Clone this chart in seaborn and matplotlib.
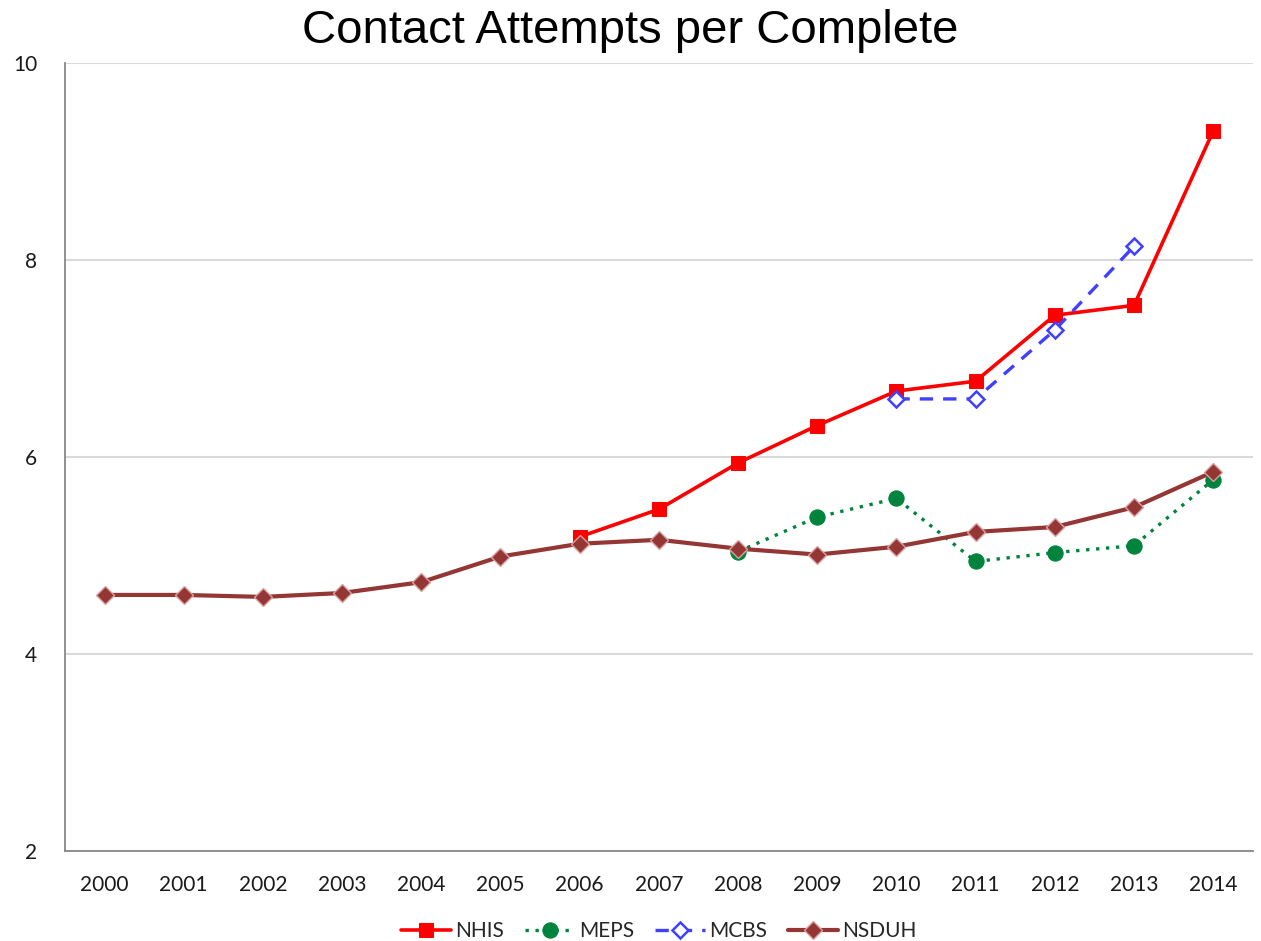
import matplotlib
matplotlib.use("Agg")
import matplotlib.pyplot as plt
import seaborn as sns
import numpy as np
import pandas as pd

years = list(range(2000, 2015))
nhis_years = list(range(2006, 2015))
nhis = [5.19, 5.47, 5.94, 6.32, 6.67, 6.77, 7.44, 7.54, 9.31]
meps_years = list(range(2008, 2015))
meps = [5.04, 5.39, 5.58, 4.94, 5.03, 5.10, 5.77]
mcbs_years = [2010, 2011, 2012, 2013]
mcbs = [6.59, 6.59, 7.29, 8.14]
nsduh_years = years
nsduh = [4.60, 4.60, 4.58, 4.62, 4.73, 4.99, 5.12, 5.16, 5.07, 5.01, 5.09, 5.24, 5.29, 5.49, 5.85]

sns.set_style("white")
plt.rcParams['font.family'] = ['Lato', 'DejaVu Sans']

fig = plt.figure(figsize=(12.61, 9.41), dpi=100)
ax = fig.add_axes([0.0515, 0.0956, 0.942, 0.8374])

sns.lineplot(x=nhis_years, y=nhis, ax=ax, color="#FF0000", lw=2.6, marker="s",
             markersize=10, markeredgecolor="#FF0000", label="NHIS", zorder=4)
sns.lineplot(x=meps_years, y=meps, ax=ax, color="#00843D", lw=2.4, linestyle=(0, (1, 2)),
             marker="o", markersize=11, markeredgecolor="#00843D", label="MEPS", zorder=3)
sns.lineplot(x=mcbs_years, y=mcbs, ax=ax, color="#4040FF", lw=2.4, linestyle=(0, (4, 3)),
             marker="D", markersize=8, markerfacecolor="white", markeredgecolor="#4040FF",
             markeredgewidth=1.8, label="MCBS", zorder=5)
sns.lineplot(x=nsduh_years, y=nsduh, ax=ax, color="#943634", lw=3, marker="D",
             markersize=9, markeredgecolor="#D9A0A0", markeredgewidth=1, label="NSDUH", zorder=4)

ax.set_xlim(1999.5, 2014.5)
ax.set_ylim(2, 10)
ax.set_xticks(years)
ax.set_xticklabels([str(y) for y in years], fontsize=15, color="#1a1a1a")
ax.set_yticks([2, 4, 6, 8, 10])
ax.set_yticklabels(["2", "4", "6", "8", "10"], fontsize=15, color="#1a1a1a")
ax.tick_params(axis='x', length=0, pad=17)
ax.tick_params(axis='y', length=0, pad=20)
ax.yaxis.grid(True, color="#D9D9D9", lw=1.5)
ax.xaxis.grid(False)
for s in ["top", "right"]:
    ax.spines[s].set_visible(False)
for s in ["left", "bottom"]:
    ax.spines[s].set_color("#888888")
    ax.spines[s].set_linewidth(1.3)
ax.set_xlabel("")
ax.set_ylabel("")

fig.text(0.5, 0.967, "Contact Attempts per Complete", fontsize=34,
         family="Liberation Sans", color="black", ha="center", va="center")

ax.legend(loc="center", bbox_to_anchor=(0.5, -0.102), ncol=4, frameon=False,
          fontsize=15, handlelength=2.4, columnspacing=1.0, handletextpad=0.2)

fig.savefig("out.png", dpi=100)
